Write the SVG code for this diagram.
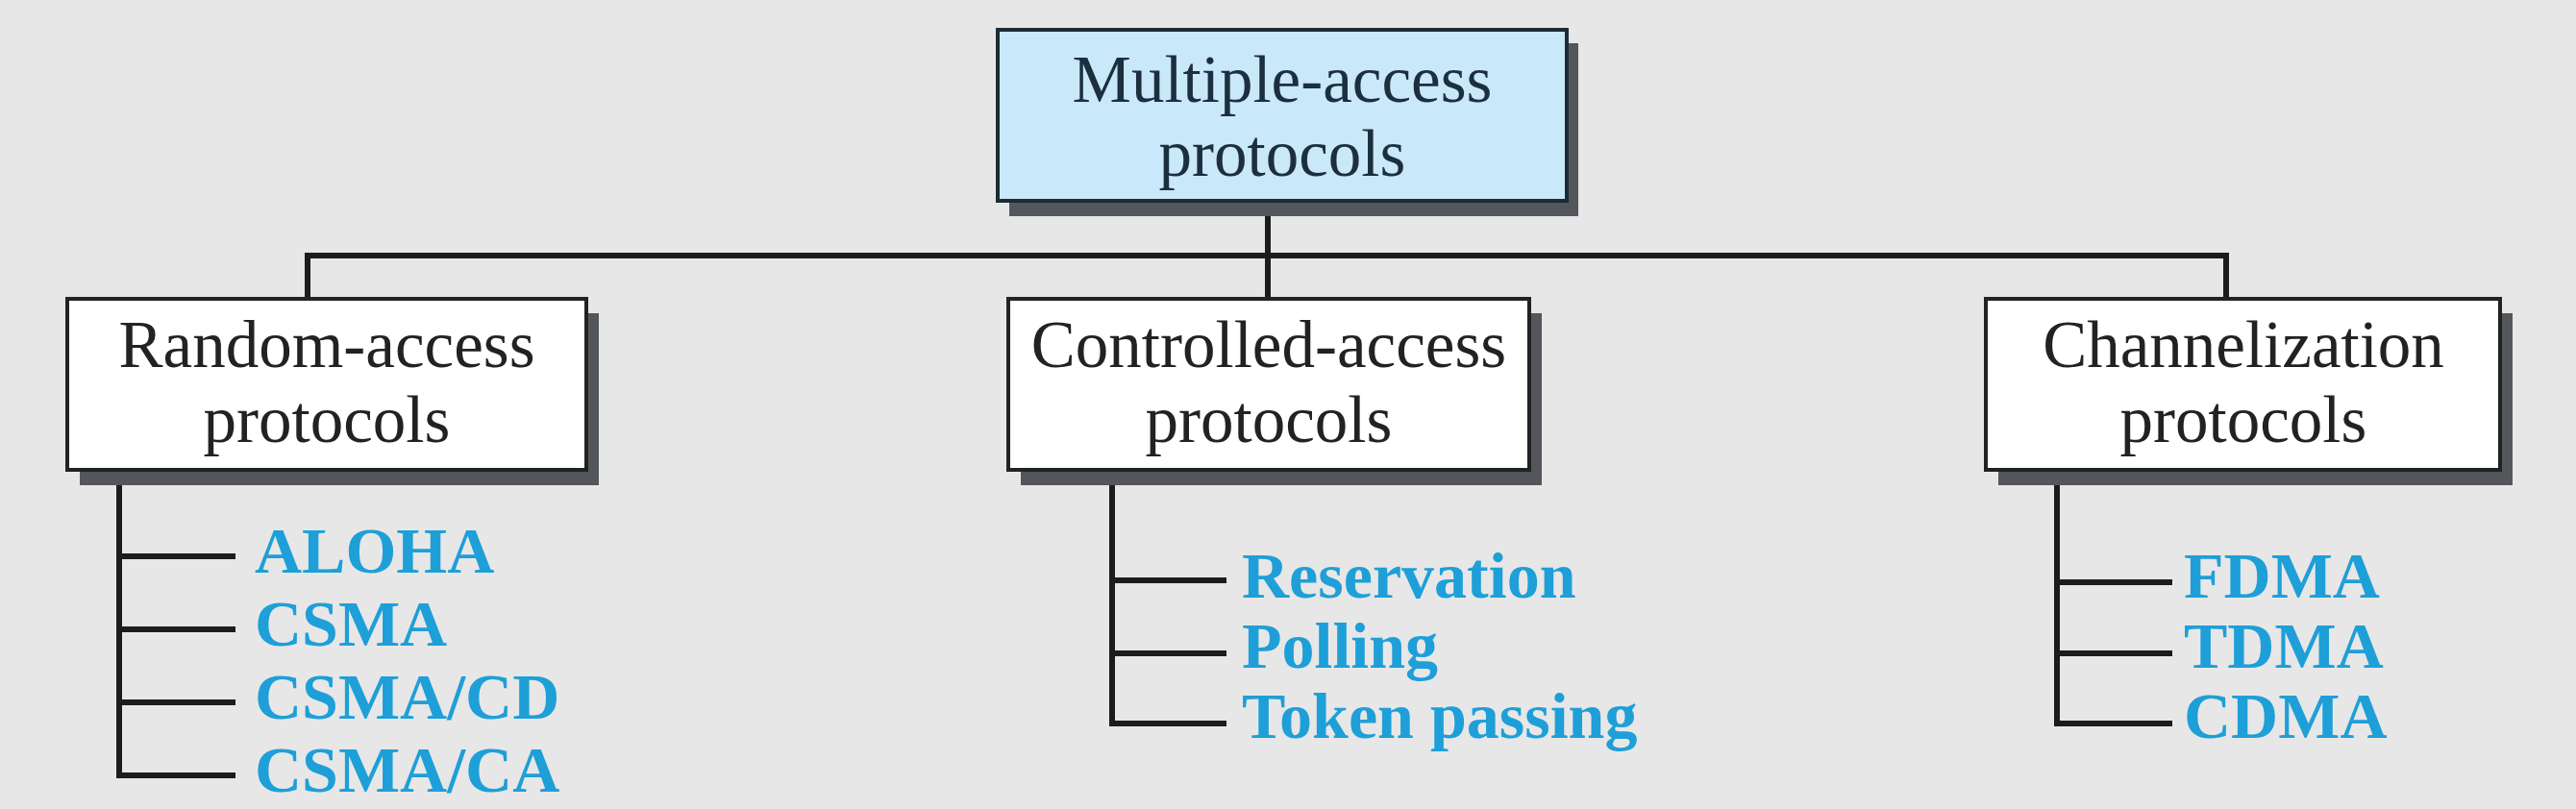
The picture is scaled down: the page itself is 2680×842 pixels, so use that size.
<svg xmlns="http://www.w3.org/2000/svg" width="2680" height="842" viewBox="0 0 2680 842">
<style>
.bg{fill:#e7e7e7}
.shadow{fill:#53575b}
.box{fill:#ffffff;stroke:#222;stroke-width:4}
.root{fill:#c9e8f9;stroke:#1d2b35;stroke-width:4}
.lbl{font-family:"Liberation Serif","Times New Roman",serif;font-size:69px;fill:#222;text-anchor:middle}
.rootlbl{fill:#1c2f3f}
.item{font-family:"Liberation Serif","Times New Roman",serif;font-size:68px;font-weight:bold;fill:#1e9fd8}
.conn{stroke:#1c1c1c;stroke-width:6;fill:none;stroke-linecap:square}
</style>
<rect class="bg" x="0" y="0" width="2680" height="842"/>
<g id="connectors">
<path class="conn" d="M1319 209 V311 M320 266 H2316 M320 266 V311 M2316 266 V311"/>
<path class="conn" d="M124 491 V807 H242 M124 579 H242 M124 655 H242 M124 731 H242"/>
<path class="conn" d="M1157 491 V753 H1273 M1157 604 H1273 M1157 680 H1273"/>
<path class="conn" d="M2140 491 V753 H2257 M2140 606 H2257 M2140 680 H2257"/>
</g>
<g id="node-root">
<rect class="shadow" x="1050" y="45" width="592" height="180"/>
<rect class="root" x="1038" y="31" width="592" height="178"/>
<text class="lbl rootlbl" x="1334" y="106">Multiple-access</text>
<text class="lbl rootlbl" x="1334" y="183">protocols</text>
</g>
<g id="node-random">
<rect class="shadow" x="83" y="326" width="540" height="179"/>
<rect class="box" x="70" y="311" width="540" height="178"/>
<text class="lbl" x="340" y="382">Random-access</text>
<text class="lbl" x="340" y="460">protocols</text>
</g>
<g id="node-controlled">
<rect class="shadow" x="1062" y="326" width="542" height="179"/>
<rect class="box" x="1049" y="311" width="542" height="178"/>
<text class="lbl" x="1320" y="382">Controlled-access</text>
<text class="lbl" x="1320" y="460">protocols</text>
</g>
<g id="node-channel">
<rect class="shadow" x="2079" y="326" width="535" height="179"/>
<rect class="box" x="2066" y="311" width="535" height="178"/>
<text class="lbl" x="2334" y="382">Channelization</text>
<text class="lbl" x="2334" y="460">protocols</text>
</g>
<g id="items-random">
<text class="item" x="265" y="596">ALOHA</text>
<text class="item" x="265" y="672">CSMA</text>
<text class="item" x="265" y="748">CSMA/CD</text>
<text class="item" x="265" y="824">CSMA/CA</text>
</g>
<g id="items-controlled">
<text class="item" x="1292" y="622">Reservation</text>
<text class="item" x="1292" y="695">Polling</text>
<text class="item" x="1292" y="768">Token passing</text>
</g>
<g id="items-channel">
<text class="item" x="2272" y="622">FDMA</text>
<text class="item" x="2272" y="695">TDMA</text>
<text class="item" x="2272" y="768">CDMA</text>
</g>
</svg>
